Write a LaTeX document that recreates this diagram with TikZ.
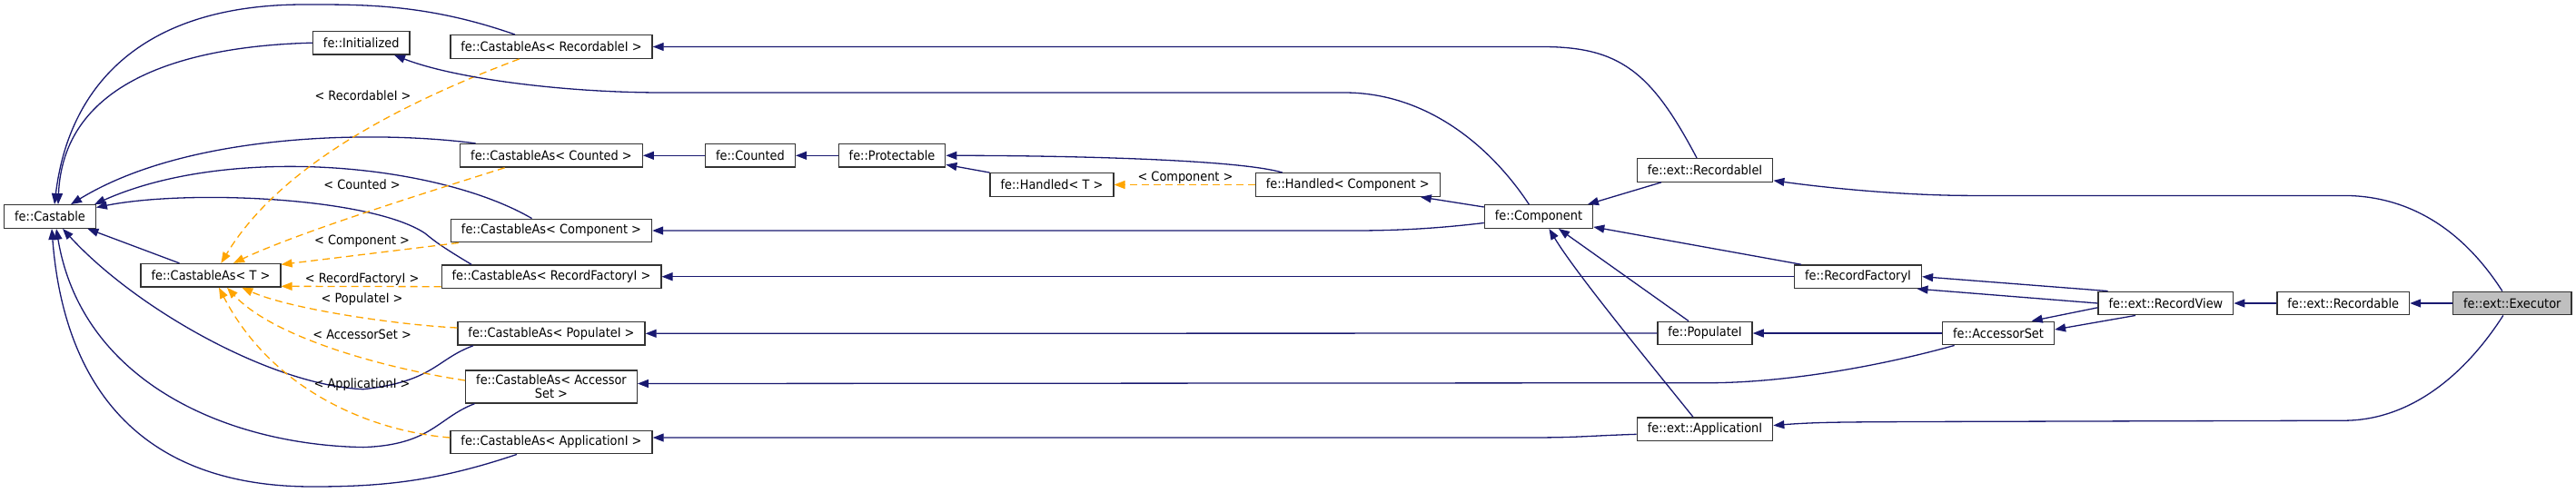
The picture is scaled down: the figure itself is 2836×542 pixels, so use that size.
\documentclass[tikz,border=0pt]{standalone}
\usepackage{fontspec}
\usepackage{xcolor}
\usetikzlibrary{arrows.meta, positioning}
\newfontfamily\dgfont{DejaVu Sans}[FakeStretch=0.91]
\definecolor{edgeblue}{HTML}{191970}
\definecolor{tmplorange}{HTML}{FFA500}

\begin{document}
\begin{tikzpicture}[
    x=1pt, y=-1pt,
    box/.style={draw=black!80, line width=1.3pt, fill=white, minimum height=25.6pt,
                inner xsep=11.5pt, inner ysep=5pt, align=center,
                font=\dgfont\fontsize{14.2}{15}\selectfont},
    inh/.style={draw=edgeblue, line width=1.3pt, -{Triangle[length=12pt,width=9pt]}},
    tmpl/.style={draw=tmplorange, line width=1.3pt, dash pattern=on 8pt off 5pt,
                 -{Triangle[length=12pt,width=9pt]}},
    lbl/.style={font=\dgfont\fontsize{14.2}{15}\selectfont, inner sep=1pt},
]
\useasboundingbox (0,0) rectangle (2836,542);

%% Classes
\node[box] (castable) at (55,238.5)   {fe::Castable};
\node[box] (init)     at (397.7,47.2) {fe::Initialized};
\node[box] (carec)    at (607,51.5)   {fe::CastableAs< RecordableI >};
\node[box] (cacnt)    at (607,171.3)  {fe::CastableAs< Counted >};
\node[box] (cacomp)   at (607,254)    {fe::CastableAs< Component >};
\node[box] (cat)      at (232,303.3)  {fe::CastableAs< T >};
\node[box] (carf)     at (607,304.7)  {fe::CastableAs< RecordFactoryI >};
\node[box] (capop)    at (607,367.3)  {fe::CastableAs< PopulateI >};
\node[box] (caacc)    at (607,426)    {fe::CastableAs< Accessor\\Set >};
\node[box] (caapp)    at (607,487)    {fe::CastableAs< ApplicationI >};
\node[box] (counted)  at (826,171.3)  {fe::Counted};
\node[box] (protect)  at (982,171.3)  {fe::Protectable};
\node[box] (handt)    at (1158,203.5) {fe::Handled< T >};
\node[box] (handc)    at (1483.7,203.5) {fe::Handled< Component >};
\node[box] (comp)     at (1694,238.5) {fe::Component};
\node[box] (reci)     at (1877,187.4) {fe::ext::RecordableI};
\node[box] (rfi)      at (2045.5,304.7) {fe::RecordFactoryI};
\node[box] (popi)     at (1877,367)   {fe::PopulateI};
\node[box] (appi)     at (1877,472.8) {fe::ext::ApplicationI};
\node[box] (accset)   at (2200,367)   {fe::AccessorSet};
\node[box] (rview)    at (2384.4,334) {fe::ext::RecordView};
\node[box] (recable)  at (2579.7,334) {fe::ext::Recordable};
\node[box, fill=black!25] (exec) at (2765.8,334) {fe::ext::Executor};

%% Into fe::Castable
\draw[inh] (init.west) .. controls +(-120,3) and +(6,-145) .. ([xshift=9pt]castable.north);
\draw[inh] ([xshift=-40pt]carec.north) .. controls +(-97,-34) and +(65,0) .. (335,5)
      .. controls +(-185,0) and +(15,-125) .. ([xshift=5pt]castable.north);
\draw[inh] ([xshift=-83.5pt]cacnt.north) .. controls +(-103.5,-13.7) and +(132,-80.7) .. ([xshift=23pt]castable.north);
\draw[inh] ([xshift=-21.5pt]cacomp.north) .. controls +(-105.5,-61.3) and +(147,-65.7) .. ([xshift=-2pt]castable.north east);
\draw[inh] ([xshift=-88pt]carf.north) .. controls +(-30,-18) and +(12,10) .. (468,257)
      .. controls +(-60,-40) and +(100,-20) .. ([yshift=10pt]castable.east);
\draw[inh] ([xshift=-34.5pt]cat.north) -- ([xshift=41.4pt]castable.south);
\draw[inh] ([xshift=-86pt]capop.south) .. controls +(-41,15) and +(78,-8.7) .. (400,428.7)
      .. controls +(-100,-4) and +(81,88.7) .. ([xshift=14pt]castable.south);
\draw[inh] ([xshift=-84.5pt]caacc.south) .. controls +(-40.5,15.4) and +(75,-2.6) .. (400,492.6)
      .. controls +(-150,-2.6) and +(28,168.7) .. ([xshift=7pt]castable.south);
\draw[inh] ([xshift=-38pt]caapp.south) .. controls +(-89,30) and +(76,0) .. (344,536)
      .. controls +(-194,0) and +(13,168.7) .. ([xshift=2pt]castable.south);

%% Template instances of fe::CastableAs< T >
\draw[tmpl] ([xshift=-35.3pt]carec.south) .. controls +(-121.7,45.7) and +(66.6,-110.7) .. ([xshift=11.4pt]cat.north);
\draw[tmpl] ([xshift=-51.4pt]cacnt.south) .. controls +(-75.6,24) and +(73,-34.7) .. ([xshift=25pt]cat.north);
\draw[tmpl] ([xshift=-102pt]cacomp.south) -- ([yshift=-1.5pt]cat.north east);
\draw[tmpl] ([yshift=-11pt]carf.west) -- ([yshift=-12pt]cat.east);
\draw[tmpl] ([yshift=6.3pt]capop.west) .. controls +(-63.7,-3) and +(53.7,24) .. ([xshift=34.3pt]cat.south);
\draw[tmpl] ([yshift=7pt]caacc.west) .. controls +(-92.5,-14) and +(50,54) .. ([xshift=18pt]cat.south);
\draw[tmpl] ([yshift=5pt]caapp.west) .. controls +(-86,-7) and +(59,114) .. ([xshift=9pt]cat.south);
\node[lbl] (lrec)  at (399.5,105.4) {< RecordableI >};
\node[lbl] (lcnt)  at (398.6,203.3) {< Counted >};
\node[lbl] (lcomp) at (398.6,265.5) {< Component >};
\node[lbl] (lrf)   at (398.6,307.7) {< RecordFactoryI >};
\node[lbl] (lpop)  at (398.6,329.5) {< PopulateI >};
\node[lbl] (lacc)  at (398.6,368.2) {< AccessorSet >};
\node[lbl] (lapp)  at (398.6,423.5) {< ApplicationI >};

%% Counted / Protectable / Handled
\draw[inh] (counted.west) -- (cacnt.east);
\draw[inh] (protect.west) -- (counted.east);
\draw[inh] (handt.north west) -- ([yshift=3.4pt]protect.south east);
\draw[inh] ([xshift=-72pt]handc.north) .. controls +(-50,-15) and +(120,0) .. (protect.east);
\draw[tmpl] (handc.west) -- (handt.east);
\node[lbl] (lhand) at (1305,195.7) {< Component >};

%% fe::Component
\draw[inh] ([xshift=-10.7pt]comp.north) .. controls +(-43,-65) and +(90,0) .. (1480,102) -- (730,102)
      .. controls +(-110,0) and +(66,25.8) .. ([xshift=36.3pt]init.south);
\draw[inh] ([yshift=10.5pt]comp.west) -- ([xshift=-22pt]handc.south east);
\draw[inh] ([yshift=-7pt]comp.west) .. controls +(-50,6) and +(50,0) .. (1490,254) -- (cacomp.east);

%% Interfaces
\draw[inh] ([xshift=-48pt]reci.south) -- ([xshift=-6.3pt]comp.north east);
\draw[inh] ([xshift=-62.5pt]rfi.north) -- ([yshift=2pt]comp.south east);
\draw[inh] ([xshift=-18pt]popi.north) -- ([xshift=22pt]comp.south);
\draw[inh] ([xshift=-13pt]appi.north) .. controls +(-40,-50) and +(30,50) .. ([xshift=11.4pt]comp.south);
\draw[inh] ([xshift=-9pt]reci.north) .. controls +(-50,-95) and +(85,0) .. (1698,51.5) -- (carec.east);
\draw[inh] (rfi.west) -- (carf.east);
\draw[inh] (popi.west) -- (capop.east);
\draw[inh] ([yshift=-5.5pt]appi.west) .. controls +(-60,2) and +(60,0) .. (1680,482) -- ([yshift=5pt]caapp.east);
\draw[inh] ([xshift=-48.4pt]accset.south) .. controls +(-90,25) and +(80,0) .. (1880,421.7) -- ([yshift=3.5pt]caacc.east);
\draw[inh] (accset.west) -- (popi.east);

%% Record view chain
\draw[inh] ([xshift=-63.8pt]rview.north) -- (rfi.east);
\draw[inh] (rview.west) -- ([xshift=-5.6pt]rfi.south east);
\draw[inh] ([yshift=-4.8pt]rview.west) -- ([xshift=-25.5pt]accset.north east);
\draw[inh] ([xshift=-33.4pt]rview.south) -- ([yshift=4pt]accset.east);
\draw[inh] (recable.west) -- (rview.east);
\draw[inh] (exec.west) -- (recable.east);
\draw[inh] ([xshift=-11pt]exec.north) .. controls +(-45,-70) and +(70,0) .. (2580,215.4) -- (2170,215.4)
      .. controls +(-80,0) and +(50,7) .. ([yshift=-11.4pt]reci.east);
\draw[inh] ([xshift=-10pt]exec.south) .. controls +(-45,70) and +(70,0) .. (2580,463.2) -- (2100,464.5)
      .. controls +(-60,0.5) and +(50,-4) .. ([yshift=4.2pt]appi.east);
\end{tikzpicture}
\end{document}
